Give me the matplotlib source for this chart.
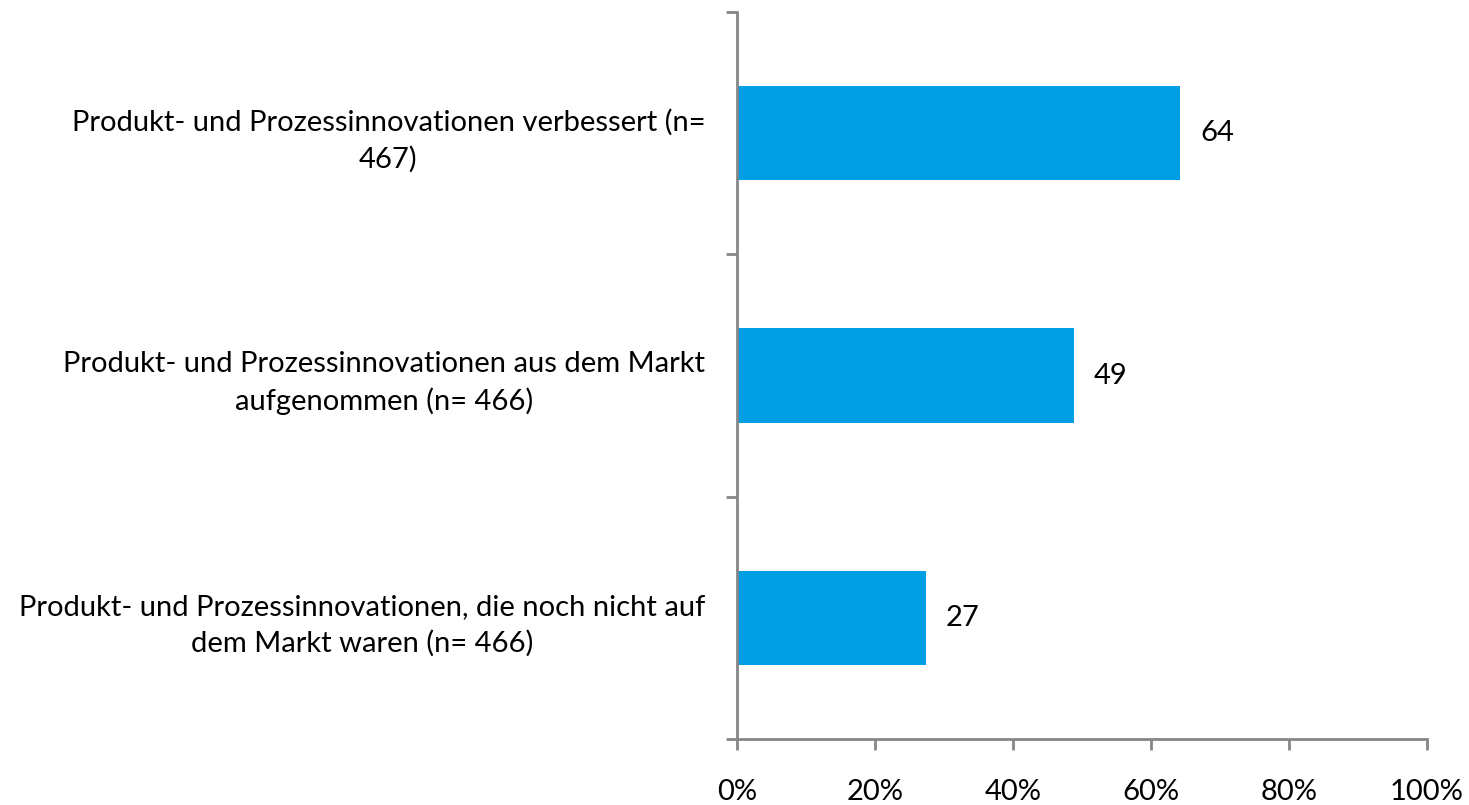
import matplotlib
matplotlib.use("Agg")
import matplotlib.pyplot as plt
from matplotlib.ticker import PercentFormatter

# data (share in %)
categories = [
    "Produkt- und Prozessinnovationen verbessert (n=\n467)",
    "Produkt- und Prozessinnovationen aus dem Markt\naufgenommen (n= 466)",
    "Produkt- und Prozessinnovationen, die noch nicht auf\ndem Markt waren (n= 466)",
]
values = [64.2, 48.8, 27.4]
value_labels = ["64", "49", "27"]
x_ticks = [0, 20, 40, 60, 80, 100]

plt.rcParams["font.family"] = ["Lato", "DejaVu Sans"]
bar_color = "#009FE3"
axis_gray = "#868686"
fs = 21

fig = plt.figure(figsize=(14.69, 8.05), dpi=100)
ax = fig.add_axes([0.5017, 0.082, 0.4697, 0.903])

ypos = list(range(len(categories)))[::-1]
bars = ax.barh(ypos, values, height=0.39, color=bar_color)
for b, lab in zip(bars, value_labels):
    ax.text(b.get_width() + 2.9, b.get_y() + b.get_height() / 2, lab,
            va="center", ha="left", fontsize=fs)

ax.set_xlim(0, 100)
ax.set_ylim(-0.5, 2.5)
ax.set_xticks(x_ticks)
ax.xaxis.set_major_formatter(PercentFormatter(decimals=0))
ax.set_yticks(ypos)
ax.set_yticklabels(categories, multialignment="center", linespacing=1.45)
# category separators as ticks on the y-axis
ax.set_yticks([-0.5, 0.5, 1.5, 2.5], minor=True)
ax.tick_params(axis="y", which="major", length=0, pad=23, labelsize=fs)
ax.tick_params(axis="y", which="minor", length=8, width=2, color=axis_gray, direction="out")
ax.tick_params(axis="x", length=8, width=2, color=axis_gray, pad=21, labelsize=fs)

for s in ["top", "right"]:
    ax.spines[s].set_visible(False)
for s in ["left", "bottom"]:
    ax.spines[s].set_color(axis_gray)
    ax.spines[s].set_linewidth(2)

fig.savefig("out.png", dpi=100)
